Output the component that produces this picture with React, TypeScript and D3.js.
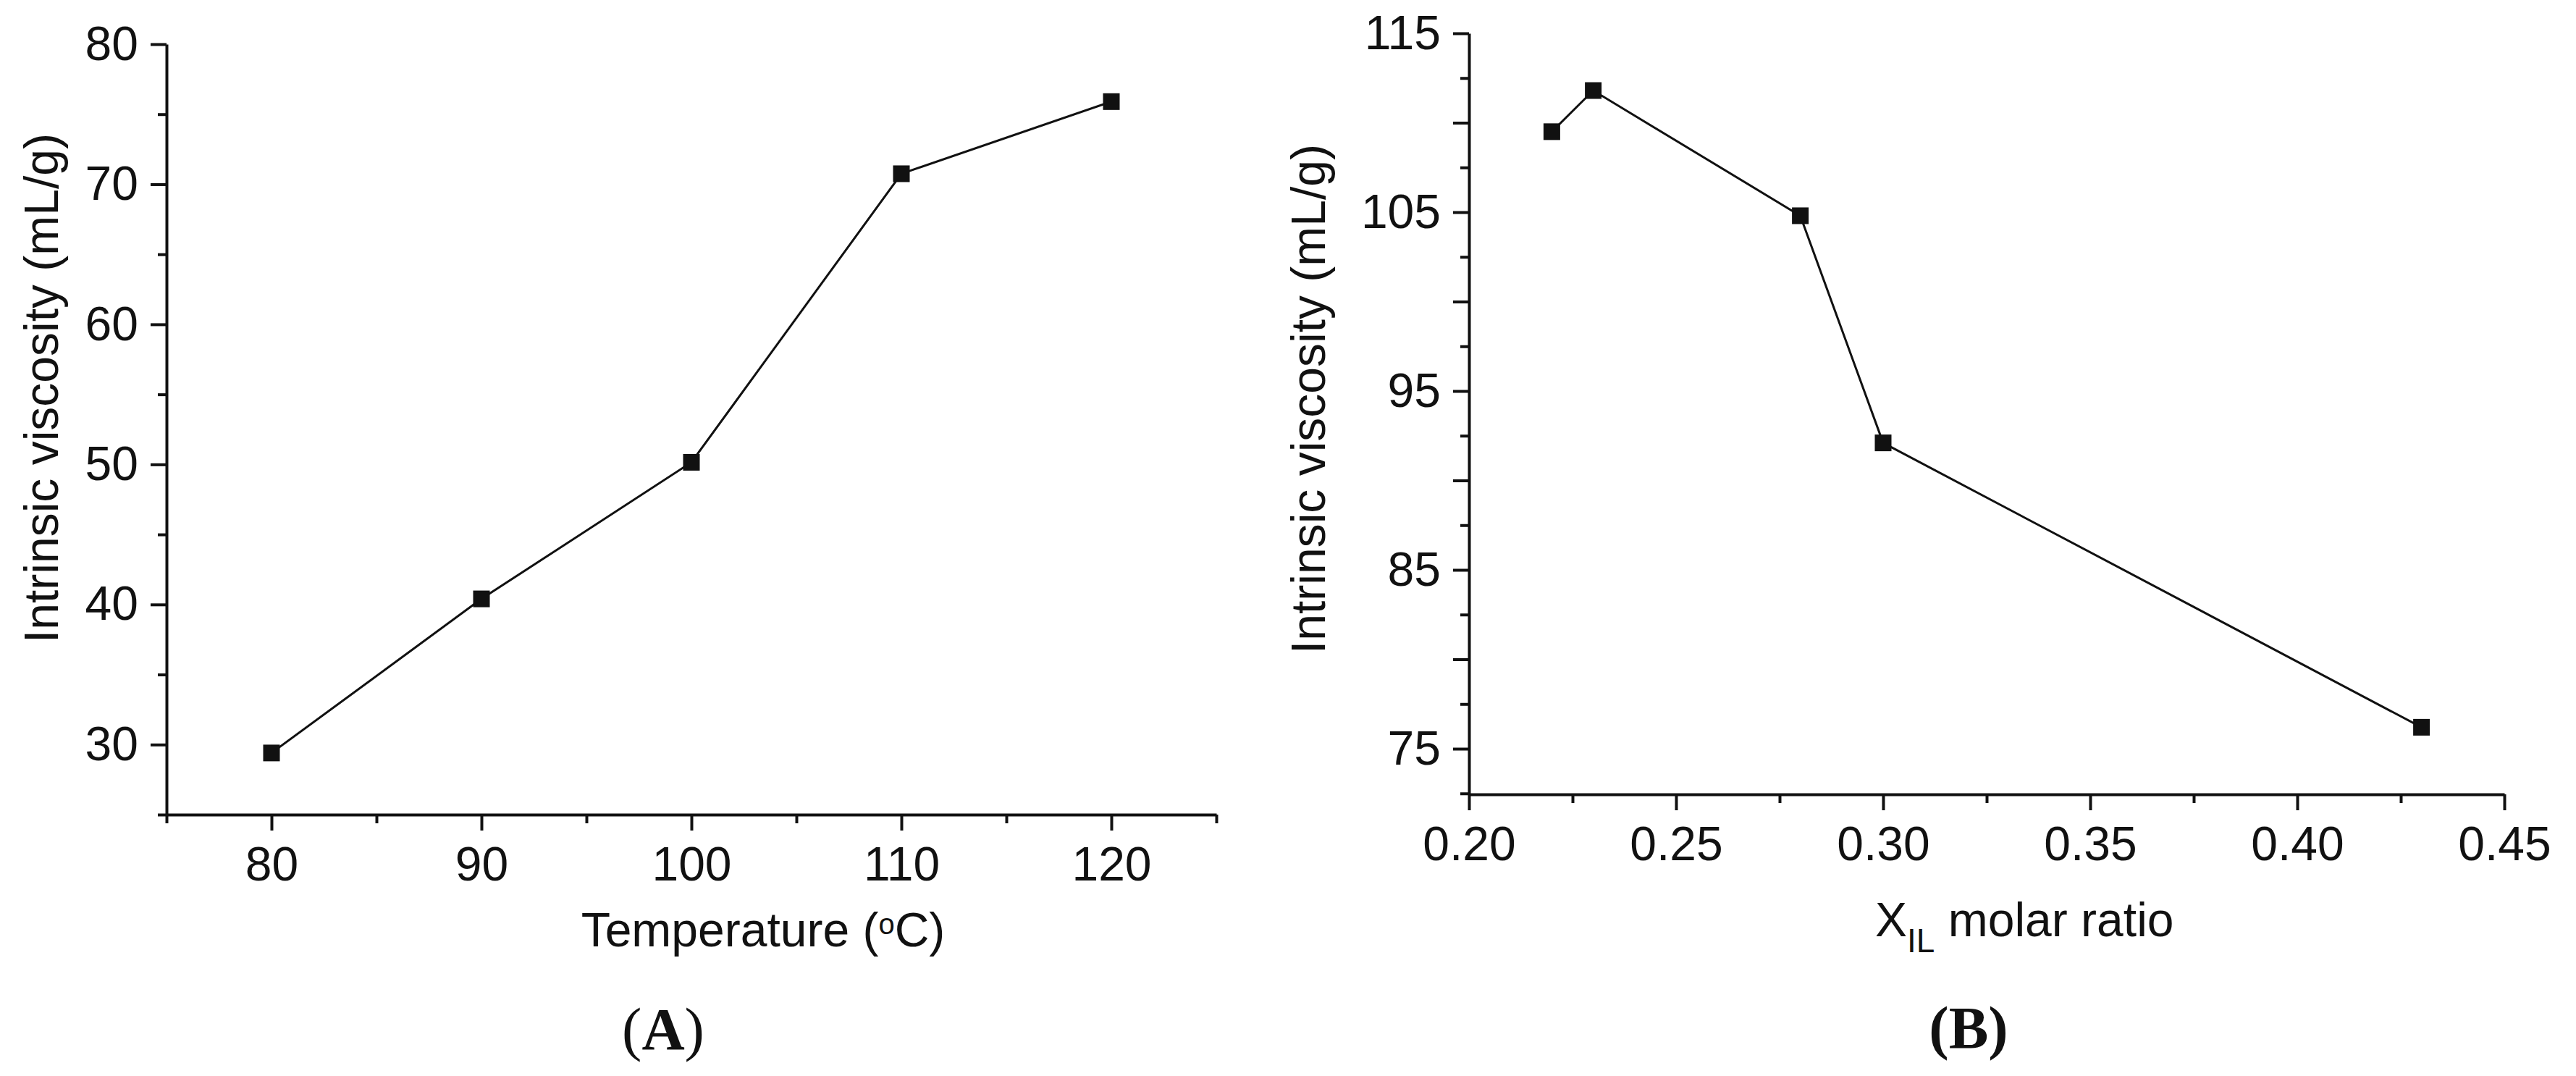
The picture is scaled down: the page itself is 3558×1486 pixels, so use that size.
import React, { useEffect, useRef } from 'react';
import * as d3 from 'd3';

// panel A: temperature series
const tempC = [80, 90, 100, 110, 120];
const viscA = [29.4, 40.4, 50.15, 70.75, 75.9];
// panel B: molar ratio series
const molarRatio = [0.22, 0.23, 0.28, 0.3, 0.43];
const viscB = [109.5, 111.8, 104.8, 92.1, 76.2];

const xTicksA = [80, 90, 100, 110, 120];
const xMinorA = [75, 85, 95, 105, 115, 125];
const yTicksA = [30, 40, 50, 60, 70, 80];
const yMinorA = [25, 35, 45, 55, 65, 75];

const xTicksB = [0.2, 0.25, 0.3, 0.35, 0.4, 0.45];
const xMinorB = [0.225, 0.275, 0.325, 0.375, 0.425];
const yTicksB = [75, 85, 95, 105, 115];
const yMidB = [80, 90, 100, 110];
const yMinorB = [72.5, 77.5, 82.5, 87.5, 92.5, 97.5, 102.5, 107.5, 112.5];

const INK = '#111';
const SANS = "'Liberation Sans', Arial, sans-serif";
const SERIF = "'Liberation Serif', 'Times New Roman', serif";

const xA = d3.scaleLinear().domain([75, 125]).range([230, 1680]);
const yA = d3.scaleLinear().domain([25, 80]).range([1125, 61]);
const xB = d3.scaleLinear().domain([0.2, 0.45]).range([2029, 3459]);
const yB = d3.scaleLinear().domain([72.45, 115]).range([1097, 46]);

type Scale = d3.ScaleLinear<number, number>;

const styleAxis = (g: any, withDomain: boolean) => {
  g.attr('font-family', SANS).attr('font-size', 66);
  g.selectAll('line').attr('stroke', INK).attr('stroke-width', 4);
  g.selectAll('text').attr('fill', INK);
  if (withDomain) g.select('.domain').attr('stroke', INK).attr('stroke-width', 4);
  else g.select('.domain').remove();
};

const drawAxes = (
  node: SVGGElement,
  x: Scale,
  y: Scale,
  xMajor: number[],
  xMinor: number[],
  yMajor: number[],
  yMinor: number[],
  xFmt: (d: any) => string,
  yMid: number[] = []
) => {
  const g = d3.select(node);
  g.selectAll('*').remove();
  const y0 = y.range()[0];
  const x0 = x.range()[0];

  g.append('g')
    .attr('transform', `translate(0,${y0})`)
    .call(d3.axisBottom(x).tickValues(xMinor).tickSize(12).tickSizeOuter(0).tickFormat(() => ''))
    .call((s: any) => styleAxis(s, false));
  g.append('g')
    .attr('transform', `translate(${x0},0)`)
    .call(d3.axisLeft(y).tickValues(yMinor).tickSize(12).tickSizeOuter(0).tickFormat(() => ''))
    .call((s: any) => styleAxis(s, false));
  if (yMid.length) {
    g.append('g')
      .attr('transform', `translate(${x0},0)`)
      .call(d3.axisLeft(y).tickValues(yMid).tickSize(22).tickSizeOuter(0).tickFormat(() => ''))
      .call((s: any) => styleAxis(s, false));
  }
  g.append('g')
    .attr('transform', `translate(0,${y0})`)
    .call(d3.axisBottom(x).tickValues(xMajor).tickSize(22).tickPadding(22).tickSizeOuter(0).tickFormat(xFmt))
    .call((s: any) => styleAxis(s, true));
  g.append('g')
    .attr('transform', `translate(${x0},0)`)
    .call(d3.axisLeft(y).tickValues(yMajor).tickSize(22).tickPadding(17).tickSizeOuter(0).tickFormat(d3.format('d')))
    .call((s: any) => styleAxis(s, true));
};

const Series: React.FC<{ xs: number[]; ys: number[]; x: Scale; y: Scale }> = ({ xs, ys, x, y }) => {
  const pts = xs.map((v, i) => [x(v), y(ys[i])] as [number, number]);
  const line = d3.line();
  const s = 23;
  return (
    <g>
      <path d={line(pts) || ''} fill="none" stroke={INK} strokeWidth={3} />
      {pts.map(([px, py], i) => (
        <rect key={i} x={px - s / 2} y={py - s / 2} width={s} height={s} fill={INK} />
      ))}
    </g>
  );
};

const App: React.FC = () => {
  const axA = useRef<SVGGElement>(null);
  const axB = useRef<SVGGElement>(null);

  useEffect(() => {
    if (axA.current) drawAxes(axA.current, xA, yA, xTicksA, xMinorA, yTicksA, yMinorA, d3.format('d'));
    if (axB.current)
      drawAxes(axB.current, xB, yB, xTicksB, xMinorB, yTicksB, yMinorB, d3.format('.2f'), yMidB);
  }, []);

  return (
    <svg
      width={3558}
      height={1486}
      style={{ position: 'absolute', left: 0, top: 0, background: '#fff' }}
    >
      <rect width={3558} height={1486} fill="#fff" />
      <g ref={axA} />
      <g ref={axB} />
      <Series xs={tempC} ys={viscA} x={xA} y={yA} />
      <Series xs={molarRatio} ys={viscB} x={xB} y={yB} />

      <g fontFamily={SANS} fontSize={66} fill={INK}>
        <text x={1054} y={1307} textAnchor="middle">
          Temperature (<tspan fontSize={40} dy={-17}>o</tspan>
          <tspan fontSize={66} dy={17}>C)</tspan>
        </text>
        <text transform="translate(80,536) rotate(-90)" textAnchor="middle">
          Intrinsic viscosity (mL/g)
        </text>
        <text x={2590} y={1293}>
          X<tspan fontSize={46} dy={22}>IL</tspan>
          <tspan dy={-22}> molar ratio</tspan>
        </text>
        <text transform="translate(1830,551) rotate(-90)" textAnchor="middle">
          Intrinsic viscosity (mL/g)
        </text>
      </g>

      <g fontFamily={SERIF} fontSize={82} fill={INK}>
        <text x={916} y={1449} textAnchor="middle">
          (<tspan fontWeight="bold">A</tspan>)
        </text>
        <text x={2719} y={1447} textAnchor="middle" fontWeight="bold">
          (B)
        </text>
      </g>
    </svg>
  );
};

export default App;
